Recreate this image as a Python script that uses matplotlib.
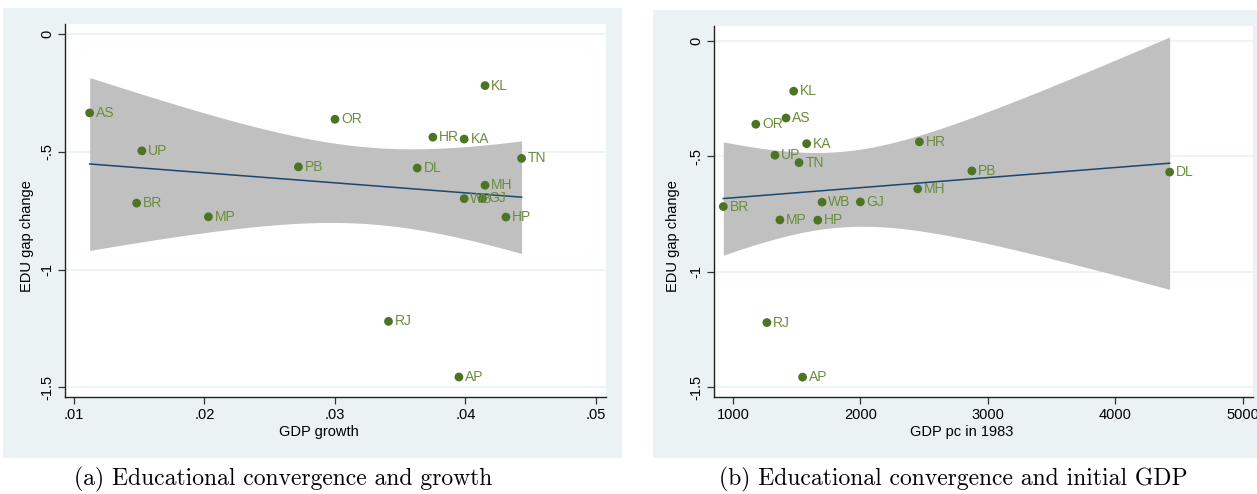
import matplotlib
matplotlib.use('Agg')
import matplotlib.pyplot as plt
from matplotlib.patches import Rectangle
import numpy as np

# state codes and values
states = ['KL', 'AS', 'OR', 'HR', 'KA', 'UP', 'TN', 'PB', 'DL',
          'MH', 'WB', 'GJ', 'BR', 'MP', 'HP', 'RJ', 'AP']
edu_gap_change = [-0.219, -0.335, -0.362, -0.438, -0.446, -0.496, -0.528, -0.564, -0.569,
                  -0.642, -0.699, -0.698, -0.718, -0.776, -0.777, -1.220, -1.456]
gdp_growth = [0.0415, 0.0112, 0.0300, 0.0375, 0.0399, 0.0152, 0.0443, 0.0272, 0.0363,
              0.0415, 0.0399, 0.0413, 0.0148, 0.0203, 0.0431, 0.0341, 0.0395]
gdp_pc_1983 = [1476, 1416, 1179, 2462, 1578, 1329, 1518, 2874, 4425,
               2449, 1699, 1999, 924, 1368, 1665, 1266, 1546]

y_ticks = [0, -0.5, -1, -1.5]
y_ticklabels = ['0', '-.5', '-1', '-1.5']
x_ticks_a = [0.01, 0.02, 0.03, 0.04, 0.05]
x_ticklabels_a = ['.01', '.02', '.03', '.04', '.05']
x_ticks_b = [1000, 2000, 3000, 4000, 5000]
x_ticklabels_b = ['1000', '2000', '3000', '4000', '5000']

BG = '#eaf2f3'
MARKER = '#4d7424'
LABEL = '#6a8d3c'
LINE = '#1a476f'
BAND = '#c0c0c0'
T_975 = 2.131  # t quantile, 15 df

plt.rcParams['font.family'] = ['Liberation Sans', 'DejaVu Sans']

fig = plt.figure(figsize=(12.57, 4.94), dpi=100)
W, H = 1257.0, 494.0


def px_rect(x0, y0, x1, y1):
    return [x0 / W, 1 - y1 / H, (x1 - x0) / W, (y1 - y0) / H]


# light panel backgrounds (Stata graph region)
for x0, y0, x1, y1 in [(3, 8, 622, 458), (653, 10, 1257, 458)]:
    r = px_rect(x0, y0, x1, y1)
    fig.patches.append(Rectangle((r[0], r[1]), r[2], r[3], transform=fig.transFigure,
                                 facecolor=BG, edgecolor='none', zorder=-5))


def panel(rect, x, y, xlim, ylim, xticks, xticklabels, xlabel, caption, cap_x,
          xlab_pos, ylab_pos):
    ax = fig.add_axes(px_rect(*rect))
    ax.set_zorder(2)
    x = np.asarray(x, float)
    y = np.asarray(y, float)

    # linear fit with 95% CI of the mean
    b, a = np.polyfit(x, y, 1)
    n = len(x)
    resid = y - (a + b * x)
    s = np.sqrt(np.sum(resid ** 2) / (n - 2))
    sxx = np.sum((x - x.mean()) ** 2)
    xs = np.linspace(x.min(), x.max(), 200)
    fit = a + b * xs
    half = T_975 * s * np.sqrt(1.0 / n + (xs - x.mean()) ** 2 / sxx)

    for t in y_ticks:
        ax.axhline(t, color=BG, lw=1.2, zorder=0)
    ax.fill_between(xs, fit - half, fit + half, color=BAND, lw=0, zorder=1)
    ax.plot(xs, fit, color=LINE, lw=1.1, zorder=2)
    ax.scatter(x, y, s=40, color=MARKER, edgecolor='none', zorder=3)
    for xi, yi, lab in zip(x, y, states):
        ax.annotate(lab, (xi, yi), xytext=(4.5, 0), textcoords='offset points',
                    va='center', ha='left', fontsize=10, color=LABEL, zorder=4)

    ax.set_xlim(*xlim)
    ax.set_ylim(*ylim)
    ax.set_xticks(xticks)
    ax.set_xticklabels(xticklabels)
    ax.set_yticks(y_ticks)
    ax.set_yticklabels(y_ticklabels, rotation=90, va='center')
    ax.tick_params(axis='both', length=5, width=0.9, color='#333333', labelsize=10.5, pad=3)
    for sp in ('top', 'right'):
        ax.spines[sp].set_visible(False)
    for sp in ('left', 'bottom'):
        ax.spines[sp].set_color('#222222')
        ax.spines[sp].set_linewidth(1.0)
    ax.set_xlabel(xlabel, fontsize=10.5)
    ax.xaxis.set_label_coords(*xlab_pos)
    ax.set_ylabel('EDU gap change', fontsize=10.5)
    ax.yaxis.set_label_coords(*ylab_pos)
    fig.text(cap_x / W, 1 - 479 / H, caption, ha='center', va='center',
             fontsize=17, family='cmr10')
    return ax


panel((65, 24, 606, 397), gdp_growth, edu_gap_change, (0.00931, 0.05077), (-1.541, 0.0425),
      x_ticks_a, x_ticklabels_a, 'GDP growth', '(a) Educational convergence and growth', 283,
      (0.4695, -0.075), (-0.058, 0.432))
panel((714, 26, 1253, 397), gdp_pc_1983, edu_gap_change, (851, 5079), (-1.542, 0.063),
      x_ticks_b, x_ticklabels_b, 'GDP pc in 1983', '(b) Educational convergence and initial GDP', 953,
      (0.46, -0.075), (-0.064, 0.435))

fig.savefig('out.png', dpi=100)
